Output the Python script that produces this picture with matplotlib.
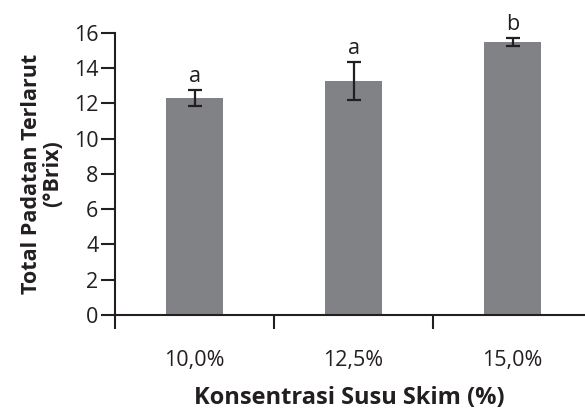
import numpy as np
import matplotlib
matplotlib.use("Agg")
import matplotlib.pyplot as plt

plt.rcParams['font.family'] = ['Open Sans', 'DejaVu Sans']

# Data
categories = ["10,0%", "12,5%", "15,0%"]
brix_mean = [12.3, 13.27, 15.47]
brix_err = [0.45, 1.07, 0.25]
letters = ["a", "a", "b"]

dark = "#231f20"
bar_color = "#808285"

fig = plt.figure(figsize=(5.85, 4.13), dpi=100)
ax = fig.add_axes([0.1966, 0.2373, 0.8154, 0.6835])

x = np.arange(len(categories))
ax.bar(x, brix_mean, width=0.36, color=bar_color, zorder=2)
ax.errorbar(x, brix_mean, yerr=brix_err, fmt='none', ecolor=dark,
            elinewidth=1.6, capsize=5, capthick=1.6, zorder=3)

for xi, m, e, lab in zip(x, brix_mean, brix_err, letters):
    ax.annotate(lab, (xi, m + e), xytext=(0, 2), textcoords='offset points',
                ha='center', va='bottom', fontsize=15.5, color=dark)

ax.set_xlim(-0.5, 2.5)
ax.set_ylim(0, 16)
ax.set_yticks(np.arange(0, 17, 2))

# category labels centred, tick marks on category boundaries
ax.set_xticks([-0.5, 0.5, 1.5])
ax.set_xticklabels([])
ax.set_xticks(x, minor=True)
ax.set_xticklabels(categories, minor=True)
ax.tick_params(axis='x', which='minor', length=0, pad=25, labelsize=15.5,
               labelcolor=dark)
ax.tick_params(axis='x', which='major', direction='out', length=10,
               width=1.5, color=dark)
ax.tick_params(axis='y', direction='out', length=10, width=1.5, color=dark,
               labelsize=15.5, labelcolor=dark, pad=2)

for side in ['top', 'right']:
    ax.spines[side].set_visible(False)
for side in ['left', 'bottom']:
    ax.spines[side].set_linewidth(1.5)
    ax.spines[side].set_color(dark)

ax.set_ylabel("Total Padatan Terlarut\n(°Brix)", fontsize=15.5,
              fontweight='bold', color=dark, linespacing=1.0)
ax.yaxis.set_label_coords(-0.108, 0.5)
ax.set_xlabel("Konsentrasi Susu Skim (%)", fontsize=17, fontweight='bold',
              color=dark)
ax.xaxis.set_label_coords(0.492, -0.25)

fig.savefig("out.png", dpi=100)
